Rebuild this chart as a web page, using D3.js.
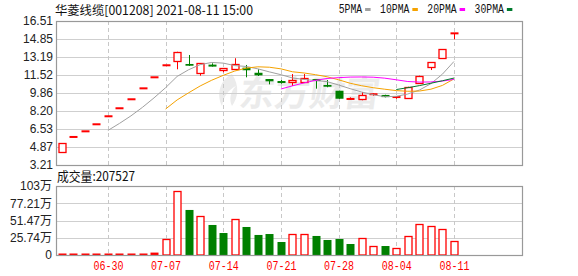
<!DOCTYPE html>
<html>
<head>
<meta charset="utf-8">
<script src="https://cdn.jsdelivr.net/npm/d3@7"></script>
<style>
  body { margin: 0; background: #fff; }
  svg { display: block; }
</style>
</head>
<body>
<div id="chart"></div>
<script>
// daily data for 华菱线缆 (001208)
var dates = ["06-24", "06-25", "06-28", "06-29", "06-30", "07-01", "07-02", "07-05", "07-06", "07-07",
  "07-08", "07-09", "07-12", "07-13", "07-14", "07-15", "07-16", "07-19", "07-20", "07-21",
  "07-22", "07-23", "07-26", "07-27", "07-28", "07-29", "07-30", "08-02", "08-03", "08-04",
  "08-05", "08-06", "08-09", "08-10", "08-11"];

var opens = [4.35, 5.80, 6.32, 6.97, 7.71, 8.45, 9.28, 10.29, 11.31, 12.42,
  12.88, 12.54, 11.68, 12.45, 11.92, 12.05, 12.20, 11.73, 11.15, 10.90,
  10.85, 10.85, 11.12, 10.60, 10.07, 9.31, 9.28, 9.73, 9.68, 9.47,
  9.46, 10.81, 12.23, 13.07, 15.37];
var highs = [5.21, 5.80, 6.32, 6.97, 7.71, 8.45, 9.28, 10.29, 11.31, 12.42,
  13.67, 13.37, 12.60, 12.60, 12.14, 13.07, 12.45, 12.05, 11.15, 11.06,
  11.61, 11.61, 11.12, 11.06, 10.07, 9.46, 9.95, 9.83, 9.70, 9.53,
  10.44, 11.46, 12.70, 13.90, 15.37];
var lows = [4.35, 5.80, 6.32, 6.97, 7.71, 8.45, 9.28, 10.29, 11.31, 12.42,
  12.05, 12.36, 11.46, 12.30, 11.77, 12.05, 11.31, 11.43, 10.66, 10.72,
  10.51, 10.85, 10.26, 10.39, 9.33, 9.22, 9.19, 9.61, 9.46, 9.33,
  9.33, 10.72, 11.98, 13.07, 14.82];
var closes = [5.21, 5.80, 6.32, 6.97, 7.71, 8.45, 9.28, 10.29, 11.31, 12.42,
  13.67, 12.38, 12.60, 12.33, 12.14, 12.51, 11.96, 11.49, 10.94, 10.85,
  11.03, 11.22, 10.99, 10.44, 9.33, 9.31, 9.65, 9.76, 9.48, 9.50,
  10.44, 11.46, 12.70, 13.90, 15.37];

// volume in 万
var volumes = [0.5, 0.4, 0.4, 0.4, 0.4, 0.4, 0.4, 0.5, 3.6, 23.9,
  95.1, 67.2, 57.8, 44.8, 32.8, 53.3, 41.8, 29.9, 31.3, 19.4,
  30.9, 30.9, 28.4, 22.4, 23.9, 16.4, 24.9, 13.0, 13.4, 10.0,
  27.9, 45.8, 42.8, 38.4, 20.7527];

var ma5 = [null, null, null, null,
  6.40, 7.05, 7.75, 8.54, 9.41, 10.35, 11.39, 12.01, 12.48, 12.68,
  12.62, 12.39, 12.31, 12.09, 11.81, 11.55, 11.25, 11.11, 11.01, 10.91,
  10.60, 10.26, 9.95, 9.70, 9.52, 9.55, 9.77, 10.13, 10.72, 11.60, 12.77];
var ma10 = [null, null, null, null, null, null, null, null, null,
  8.38, 9.22, 9.88, 10.51, 11.04, 11.49, 11.89, 12.16, 12.28, 12.24,
  12.09, 11.82, 11.71, 11.55, 11.36, 11.08, 10.76, 10.53, 10.35, 10.21,
  10.08, 10.02, 10.04, 10.21, 10.56, 11.16];
var ma20 = [null, null, null, null, null, null, null, null, null, null,
  null, null, null, null, null, null, null, null, null,
  10.23, 10.52, 10.79, 11.03, 11.20, 11.28, 11.33, 11.34, 11.32, 11.23,
  11.08, 10.92, 10.87, 10.88, 10.96, 11.12];
var ma30 = [null, null, null, null, null, null, null, null, null, null,
  null, null, null, null, null, null, null, null, null, null,
  null, null, null, null, null, null, null, null, null,
  10.18, 10.35, 10.54, 10.76, 10.99, 11.24];

var maNames = ["5PMA", "10PMA", "20PMA", "30PMA"];
var maColors = ["#a0a0a0", "#f5a200", "#ff00ff", "#007a2e"];

var priceTicks = [3.21, 4.87, 6.53, 8.20, 9.86, 11.52, 13.19, 14.85, 16.51];
var volTicks = [0, 25.74, 51.47, 77.21, 102.95];
var volTickLabels = ["0", "25.74万", "51.47万", "77.21万", "103万"];
var dateTicks = [4, 9, 14, 19, 24, 29, 34];

var RED = "#ff0000", GREEN = "#008000";

var svgWidth = 578, svgHeight = 276;
var left = 56, right = 522;
var pTop = 21, pBot = 165, vTop = 186, vBot = 255;

var svg = d3.select("#chart").append("svg")
  .attr("width", svgWidth)
  .attr("height", svgHeight)
  .style("font-family", "'Liberation Sans', Arial, sans-serif");

// scales
var x = d3.scaleLinear().domain([-0.5, 39.9]).range([left, right]);
var y = d3.scaleLinear().domain([3.21, 16.51]).range([pBot, pTop]);
var yv = d3.scaleLinear().domain([0, 102.95]).range([vBot, vTop]);

function cx(i) { return Math.round(x(i)); }

// watermark
var wm = svg.append("g").attr("fill", "#ebebeb");
wm.append("path")
  .attr("d", "M232,74 C220,80 216,94 222,106 C224,96 228,90 236,86 C230,92 229,100 232,106 C238,98 240,86 232,74 Z");
wm.append("text")
  .attr("x", 239).attr("y", 106)
  .attr("transform", "skewX(-8) translate(14,0)")
  .style("font-family", "'Noto Sans CJK SC', sans-serif")
  .style("font-size", "35px")
  .style("font-weight", "bold")
  .text("东方财富");

// grid lines
var grid = svg.append("g");
grid.selectAll(".hp")
  .data(priceTicks.slice(1, -1))
  .enter().append("line")
  .attr("x1", left).attr("x2", right)
  .attr("y1", d => Math.round(y(d)) + 0.5).attr("y2", d => Math.round(y(d)) + 0.5)
  .attr("stroke", "#cfcfcf");
grid.selectAll(".hv")
  .data(volTicks.slice(1, -1))
  .enter().append("line")
  .attr("x1", left).attr("x2", right)
  .attr("y1", d => Math.round(yv(d)) + 0.5).attr("y2", d => Math.round(yv(d)) + 0.5)
  .attr("stroke", "#cfcfcf");
[[pTop, pBot], [vTop, vBot]].forEach(function(r) {
  grid.selectAll(null)
    .data(dateTicks)
    .enter().append("line")
    .attr("x1", d => cx(d) + 0.5).attr("x2", d => cx(d) + 0.5)
    .attr("y1", r[0]).attr("y2", r[1])
    .attr("stroke", "#c8c8c8")
    .attr("stroke-dasharray", "4,3");
});

// candles
var candles = svg.append("g").selectAll("g")
  .data(dates)
  .enter().append("g");

function candleColor(i) { return closes[i] >= opens[i] ? RED : GREEN; }

candles.append("line")
  .attr("x1", (d, i) => cx(i) + 0.5).attr("x2", (d, i) => cx(i) + 0.5)
  .attr("y1", (d, i) => y(highs[i])).attr("y2", (d, i) => y(lows[i]))
  .attr("stroke", (d, i) => candleColor(i));

candles.append("rect")
  .each(function(d, i) {
    var top = y(Math.max(opens[i], closes[i]));
    var bot = y(Math.min(opens[i], closes[i]));
    var el = d3.select(this);
    if (bot - top < 1.6) {
      el.attr("x", cx(i) - 3.5).attr("width", 8)
        .attr("y", (top + bot) / 2 - 1).attr("height", 2)
        .attr("fill", candleColor(i));
    } else if (closes[i] > opens[i]) {
      el.attr("x", cx(i) - 3).attr("width", 7)
        .attr("y", Math.round(top) + 0.5).attr("height", Math.round(bot - top))
        .attr("fill", "#fff").attr("stroke", RED).attr("stroke-width", 1.3);
    } else {
      el.attr("x", cx(i) - 3.5).attr("width", 8)
        .attr("y", top).attr("height", bot - top)
        .attr("fill", GREEN);
    }
  });

// moving averages
var maLine = d3.line()
  .defined(d => d != null)
  .x((d, i) => x(i))
  .y(d => y(d));

[ma5, ma10, ma20, ma30].forEach(function(series, k) {
  svg.append("path")
    .datum(series)
    .attr("d", maLine)
    .attr("fill", "none")
    .attr("stroke", maColors[k])
    .attr("stroke-width", 1);
});

// volume bars, coloured against the previous close
function volUp(i) { return i === 0 || closes[i] >= closes[i - 1]; }

svg.append("g").selectAll("rect")
  .data(volumes)
  .enter().append("rect")
  .each(function(v, i) {
    var top = yv(v);
    var el = d3.select(this);
    if (vBot - top < 3) {
      var h = Math.max(vBot - top, 1.5);
      el.attr("x", cx(i) - 3.5).attr("width", 8)
        .attr("y", vBot - h).attr("height", h)
        .attr("fill", volUp(i) ? RED : GREEN);
    } else if (volUp(i)) {
      el.attr("x", cx(i) - 3).attr("width", 7)
        .attr("y", Math.round(top) + 0.5).attr("height", Math.round(vBot - top) - 0.5)
        .attr("fill", "#fff").attr("stroke", RED).attr("stroke-width", 1.3);
    } else {
      el.attr("x", cx(i) - 3.5).attr("width", 8)
        .attr("y", top).attr("height", vBot - top)
        .attr("fill", GREEN);
    }
  });

// frames
[[pTop, pBot], [vTop, vBot]].forEach(function(r) {
  svg.append("rect")
    .attr("x", left + 0.5).attr("y", r[0] + 0.5)
    .attr("width", right - left).attr("height", r[1] - r[0])
    .attr("fill", "none")
    .attr("stroke", "#999")
    .attr("stroke-width", 1.2);
});

// price axis
var priceAxis = svg.append("g")
  .attr("transform", `translate(${left}, 0)`)
  .call(d3.axisLeft(y).tickValues(priceTicks).tickSize(0).tickPadding(3).tickFormat(d3.format(".2f")));
priceAxis.select(".domain").remove();
priceAxis.selectAll("text")
  .style("font-family", "'Liberation Sans', Arial, sans-serif")
  .style("font-size", "12px")
  .attr("fill", "#222");

// volume axis
var volAxis = svg.append("g")
  .attr("transform", `translate(${left}, 0)`)
  .call(d3.axisLeft(yv).tickValues(volTicks).tickSize(0).tickPadding(4).tickFormat((d, i) => volTickLabels[i]));
volAxis.select(".domain").remove();
volAxis.selectAll("text")
  .style("font-family", "'Liberation Sans', 'Noto Sans CJK SC', sans-serif")
  .style("font-size", "12px")
  .attr("fill", "#222");

// date axis
var dateAxis = svg.append("g")
  .attr("transform", `translate(0, ${vBot})`)
  .call(d3.axisBottom(x).tickValues(dateTicks).tickSize(0).tickPadding(6).tickFormat(i => dates[i]));
dateAxis.select(".domain").remove();
dateAxis.selectAll("text")
  .style("font-family", "'Liberation Mono', monospace")
  .style("font-size", "12px")
  .attr("fill", RED)
  .attr("textLength", 30)
  .attr("lengthAdjust", "spacingAndGlyphs");

// title
svg.append("text")
  .attr("x", 55).attr("y", 14.5)
  .attr("textLength", 198)
  .attr("lengthAdjust", "spacingAndGlyphs")
  .style("font-family", "'Noto Sans CJK SC', sans-serif")
  .style("font-size", "12.5px")
  .attr("fill", "#111")
  .text("华菱线缆[001208] 2021-08-11  15:00");

svg.append("text")
  .attr("x", 57).attr("y", 181)
  .attr("textLength", 78)
  .attr("lengthAdjust", "spacingAndGlyphs")
  .style("font-family", "'Noto Sans CJK SC', sans-serif")
  .style("font-size", "13px")
  .attr("fill", "#111")
  .text("成交量:" + Math.round(volumes[volumes.length - 1] * 10000));

// legend
var cursor = 338.7;
maNames.forEach(function(name, k) {
  var w = name.length * 5.85;
  svg.append("text")
    .attr("x", cursor).attr("y", 12.5)
    .attr("textLength", w)
    .attr("lengthAdjust", "spacingAndGlyphs")
    .style("font-family", "'Liberation Mono', monospace")
    .style("font-size", "12px")
    .attr("fill", "#111")
    .text(name);
  svg.append("rect")
    .attr("x", cursor + w + 3).attr("y", 8)
    .attr("width", 5.5).attr("height", 3)
    .attr("fill", maColors[k]);
  cursor += w + 3 + 5.5 + 9.5;
});
</script>
</body>
</html>
